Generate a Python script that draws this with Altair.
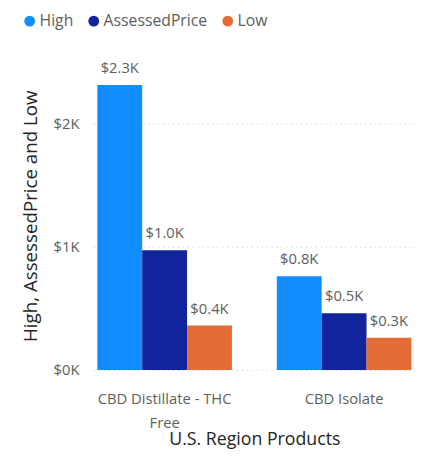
import altair as alt
import pandas as pd

categories = ["CBD Distillate - THC Free", "CBD Isolate"]
series = ["High", "AssessedPrice", "Low"]
high = [2310, 760]
assessed = [970, 460]
low = [360, 260]
colors = ["#118DFF", "#12239E", "#E66C37"]

rows = []
for i, c in enumerate(categories):
    for s, vals in zip(series, [high, assessed, low]):
        rows.append({"product": c, "series": s, "value": vals[i]})
df = pd.DataFrame(rows)

FONT = "Open Sans"
GRAY = "#605E5C"
DARK = "#252423"

base = alt.Chart(df).encode(
    x=alt.X(
        "product:N",
        sort=categories,
        title="U.S. Region Products",
        scale=alt.Scale(paddingInner=0.25, paddingOuter=0.02),
        axis=alt.Axis(
            labelAngle=0,
            labelFontSize=15,
            labelColor=GRAY,
            labelFont=FONT,
            labelLineHeight=24,
            labelPadding=22,
            labelExpr="datum.value == 'CBD Distillate - THC Free' ? ['CBD Distillate - THC', 'Free'] : datum.value",
            ticks=False,
            domain=False,
            titleFontSize=18,
            titleFont=FONT,
            titleColor=DARK,
            titleFontWeight="normal",
            titlePadding=1,
        ),
    ),
    xOffset=alt.XOffset("series:N", sort=series, scale=alt.Scale(paddingInner=0, paddingOuter=0)),
)

bars = base.mark_bar().encode(
    y=alt.Y(
        "value:Q",
        title="High, AssessedPrice and Low",
        scale=alt.Scale(domain=[0, 2500], nice=False),
        axis=alt.Axis(
            values=[0, 1000, 2000],
            labelExpr="'$' + (datum.value / 1000) + 'K'",
            labelFontSize=15,
            labelColor=GRAY,
            labelFont=FONT,
            labelPadding=15,
            ticks=False,
            domain=False,
            grid=True,
            gridDash=[1, 4],
            gridColor="#C8C6C4",
            gridWidth=1,
            titleFontSize=19,
            titleFont=FONT,
            titleColor=DARK,
            titleFontWeight="normal",
            titlePadding=13,
        ),
    ),
    color=alt.Color(
        "series:N",
        sort=series,
        scale=alt.Scale(domain=series, range=colors),
        legend=alt.Legend(
            title=None,
            orient="none",
            direction="horizontal",
            legendX=-73,
            legendY=-49,
            symbolType="circle",
            symbolSize=121,
            symbolStrokeWidth=0,
            symbolOpacity=1,
            labelFontSize=16,
            labelFont=FONT,
            labelColor=GRAY,
            labelOffset=2,
            columnPadding=12,
            padding=0,
        ),
    ),
)

labels = base.mark_text(baseline="alphabetic", dy=-12, fontSize=15, font=FONT, color=GRAY).encode(
    y=alt.Y("value:Q"),
    text=alt.Text("label:N"),
).transform_calculate(label="'$' + format(datum.value / 1000, '.1f') + 'K'")

chart = (
    alt.layer(bars, labels)
    .properties(
        width=326,
        height=313,
        autosize=alt.AutoSizeParams(type="none"),
        padding={"left": 87, "top": 51, "right": 0, "bottom": 79},
    )
    .configure_view(stroke=None)
)

chart.save("out.html", embed_options={"renderer": "svg", "actions": False})
